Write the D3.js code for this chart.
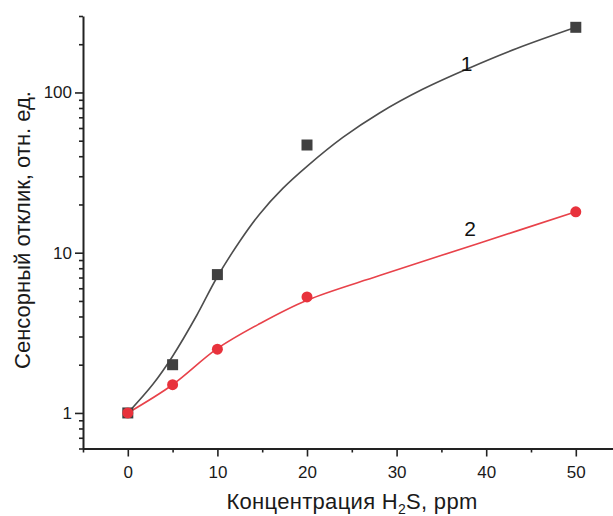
<!DOCTYPE html>
<html>
<head>
<meta charset="utf-8">
<script src="https://cdn.jsdelivr.net/npm/d3@7"></script>
<style>
  body { margin: 0; background: #fff; }
  svg { font-family: "Liberation Sans", Arial, sans-serif; }
</style>
</head>
<body>
<div id="chart"></div>
<script>
// measured points
const conc = [0, 5, 10, 20, 50];
const resp1 = [1, 2.0, 7.3, 47, 255];
const resp2 = [1, 1.5, 2.5, 5.3, 18];

// smoothed curves
const fit1X = [0, 2.8, 5, 7.7, 9.9, 12.5, 14.7, 17.3, 20, 24, 28.1, 32.9, 38.2, 43.4, 50];
const fit1Y = [1, 1.51, 2.26, 4.07, 6.93, 11.8, 17.4, 25.2, 34.6, 52.4, 74.5, 104.6, 142.7, 188, 255];
const fit2X = [0, 5, 9.9, 14.7, 20, 28.1, 39.3, 50];
const fit2Y = [1, 1.5, 2.5, 3.6, 5.05, 7.2, 11.5, 18];

const xTicks = [0, 10, 20, 30, 40, 50];
const xMinor = [-5, 5, 15, 25, 35, 45, 55];
const yTicks = [1, 10, 100];

const width = 613, height = 516;
const margin = { top: 16, left: 83, bottom: 67 };

const svg = d3.select("#chart").append("svg")
  .attr("width", width).attr("height", height);

const x = d3.scaleLinear().domain([-5, 55]).range([margin.left, margin.left + 537.6]);
const y = d3.scaleLog().domain([0.6, 300]).range([height - margin.bottom - 0.5, margin.top]);

// log minor ticks 2..9 in every decade
const yMinor = [];
[0.1, 1, 10, 100].forEach(d => {
  for (let k = 2; k <= 9; k++) {
    const v = d * k;
    if (v >= 0.6 && v <= 300) yMinor.push(v);
  }
});

const yAx = svg.append("g").attr("transform", `translate(${margin.left},0)`);
yAx.call(d3.axisLeft(y).tickValues(yTicks).tickFormat(d3.format("d")).tickSize(8).tickSizeOuter(0));
yAx.append("g").call(d3.axisLeft(y).tickValues(yMinor).tickFormat("").tickSize(4).tickSizeOuter(0))
  .select(".domain").remove();

const xAx = svg.append("g").attr("transform", `translate(0,${y(0.6)})`);
xAx.call(d3.axisBottom(x).tickValues(xTicks).tickSize(8).tickSizeOuter(0));
xAx.append("g").call(d3.axisBottom(x).tickValues(xMinor).tickFormat("").tickSize(4).tickSizeOuter(0))
  .select(".domain").remove();

svg.selectAll(".domain").attr("stroke", "#222").attr("stroke-width", 2);
svg.selectAll(".tick line").attr("stroke", "#222").attr("stroke-width", 1.6);
svg.selectAll(".tick text").attr("font-size", 17).attr("fill", "#1a1a1a")
  .attr("font-family", "Liberation Sans, Arial, sans-serif");
xAx.selectAll(".tick text").attr("y", 29).attr("dy", 0);

// curves
const line = d3.line().x(d => x(d[0])).y(d => y(d[1])).curve(d3.curveCatmullRom.alpha(0.5));

svg.append("path")
  .datum(fit1X.map((v, i) => [v, fit1Y[i]]))
  .attr("d", line)
  .attr("fill", "none")
  .attr("stroke", "#4d4d4d")
  .attr("stroke-width", 1.6);

svg.append("path")
  .datum(fit2X.map((v, i) => [v, fit2Y[i]]))
  .attr("d", line)
  .attr("fill", "none")
  .attr("stroke", "#e8424a")
  .attr("stroke-width", 1.6);

// markers
svg.append("g").selectAll("rect")
  .data(conc.map((v, i) => [v, resp1[i]]))
  .join("rect")
  .attr("x", d => x(d[0]) - 5.5)
  .attr("y", d => y(d[1]) - 5.5)
  .attr("width", 11).attr("height", 11)
  .attr("fill", "#404040");

svg.append("g").selectAll("circle")
  .data(conc.map((v, i) => [v, resp2[i]]))
  .join("circle")
  .attr("cx", d => x(d[0]))
  .attr("cy", d => y(d[1]))
  .attr("r", 5.5)
  .attr("fill", "#e8323c");

// curve labels
svg.append("text").attr("x", x(37.8)).attr("y", y(137)).text("1")
  .attr("font-size", 21).attr("fill", "#111").attr("text-anchor", "middle");
svg.append("text").attr("x", x(38.2)).attr("y", y(12.8)).text("2")
  .attr("font-size", 21).attr("fill", "#111").attr("text-anchor", "middle");

// axis titles
const xt = svg.append("text")
  .attr("x", 352).attr("y", 509)
  .attr("text-anchor", "middle")
  .attr("font-size", 22).attr("letter-spacing", 0.3).attr("fill", "#1a1a1a");
xt.append("tspan").text("Концентрация H");
xt.append("tspan").text("2").attr("font-size", 14).attr("dy", 5);
xt.append("tspan").text("S, ppm").attr("dy", -5);

svg.append("text")
  .attr("transform", "translate(30,230) rotate(-90)")
  .attr("text-anchor", "middle")
  .attr("font-size", 22).attr("fill", "#1a1a1a")
  .text("Сенсорный отклик, отн. ед.");
</script>
</body>
</html>
